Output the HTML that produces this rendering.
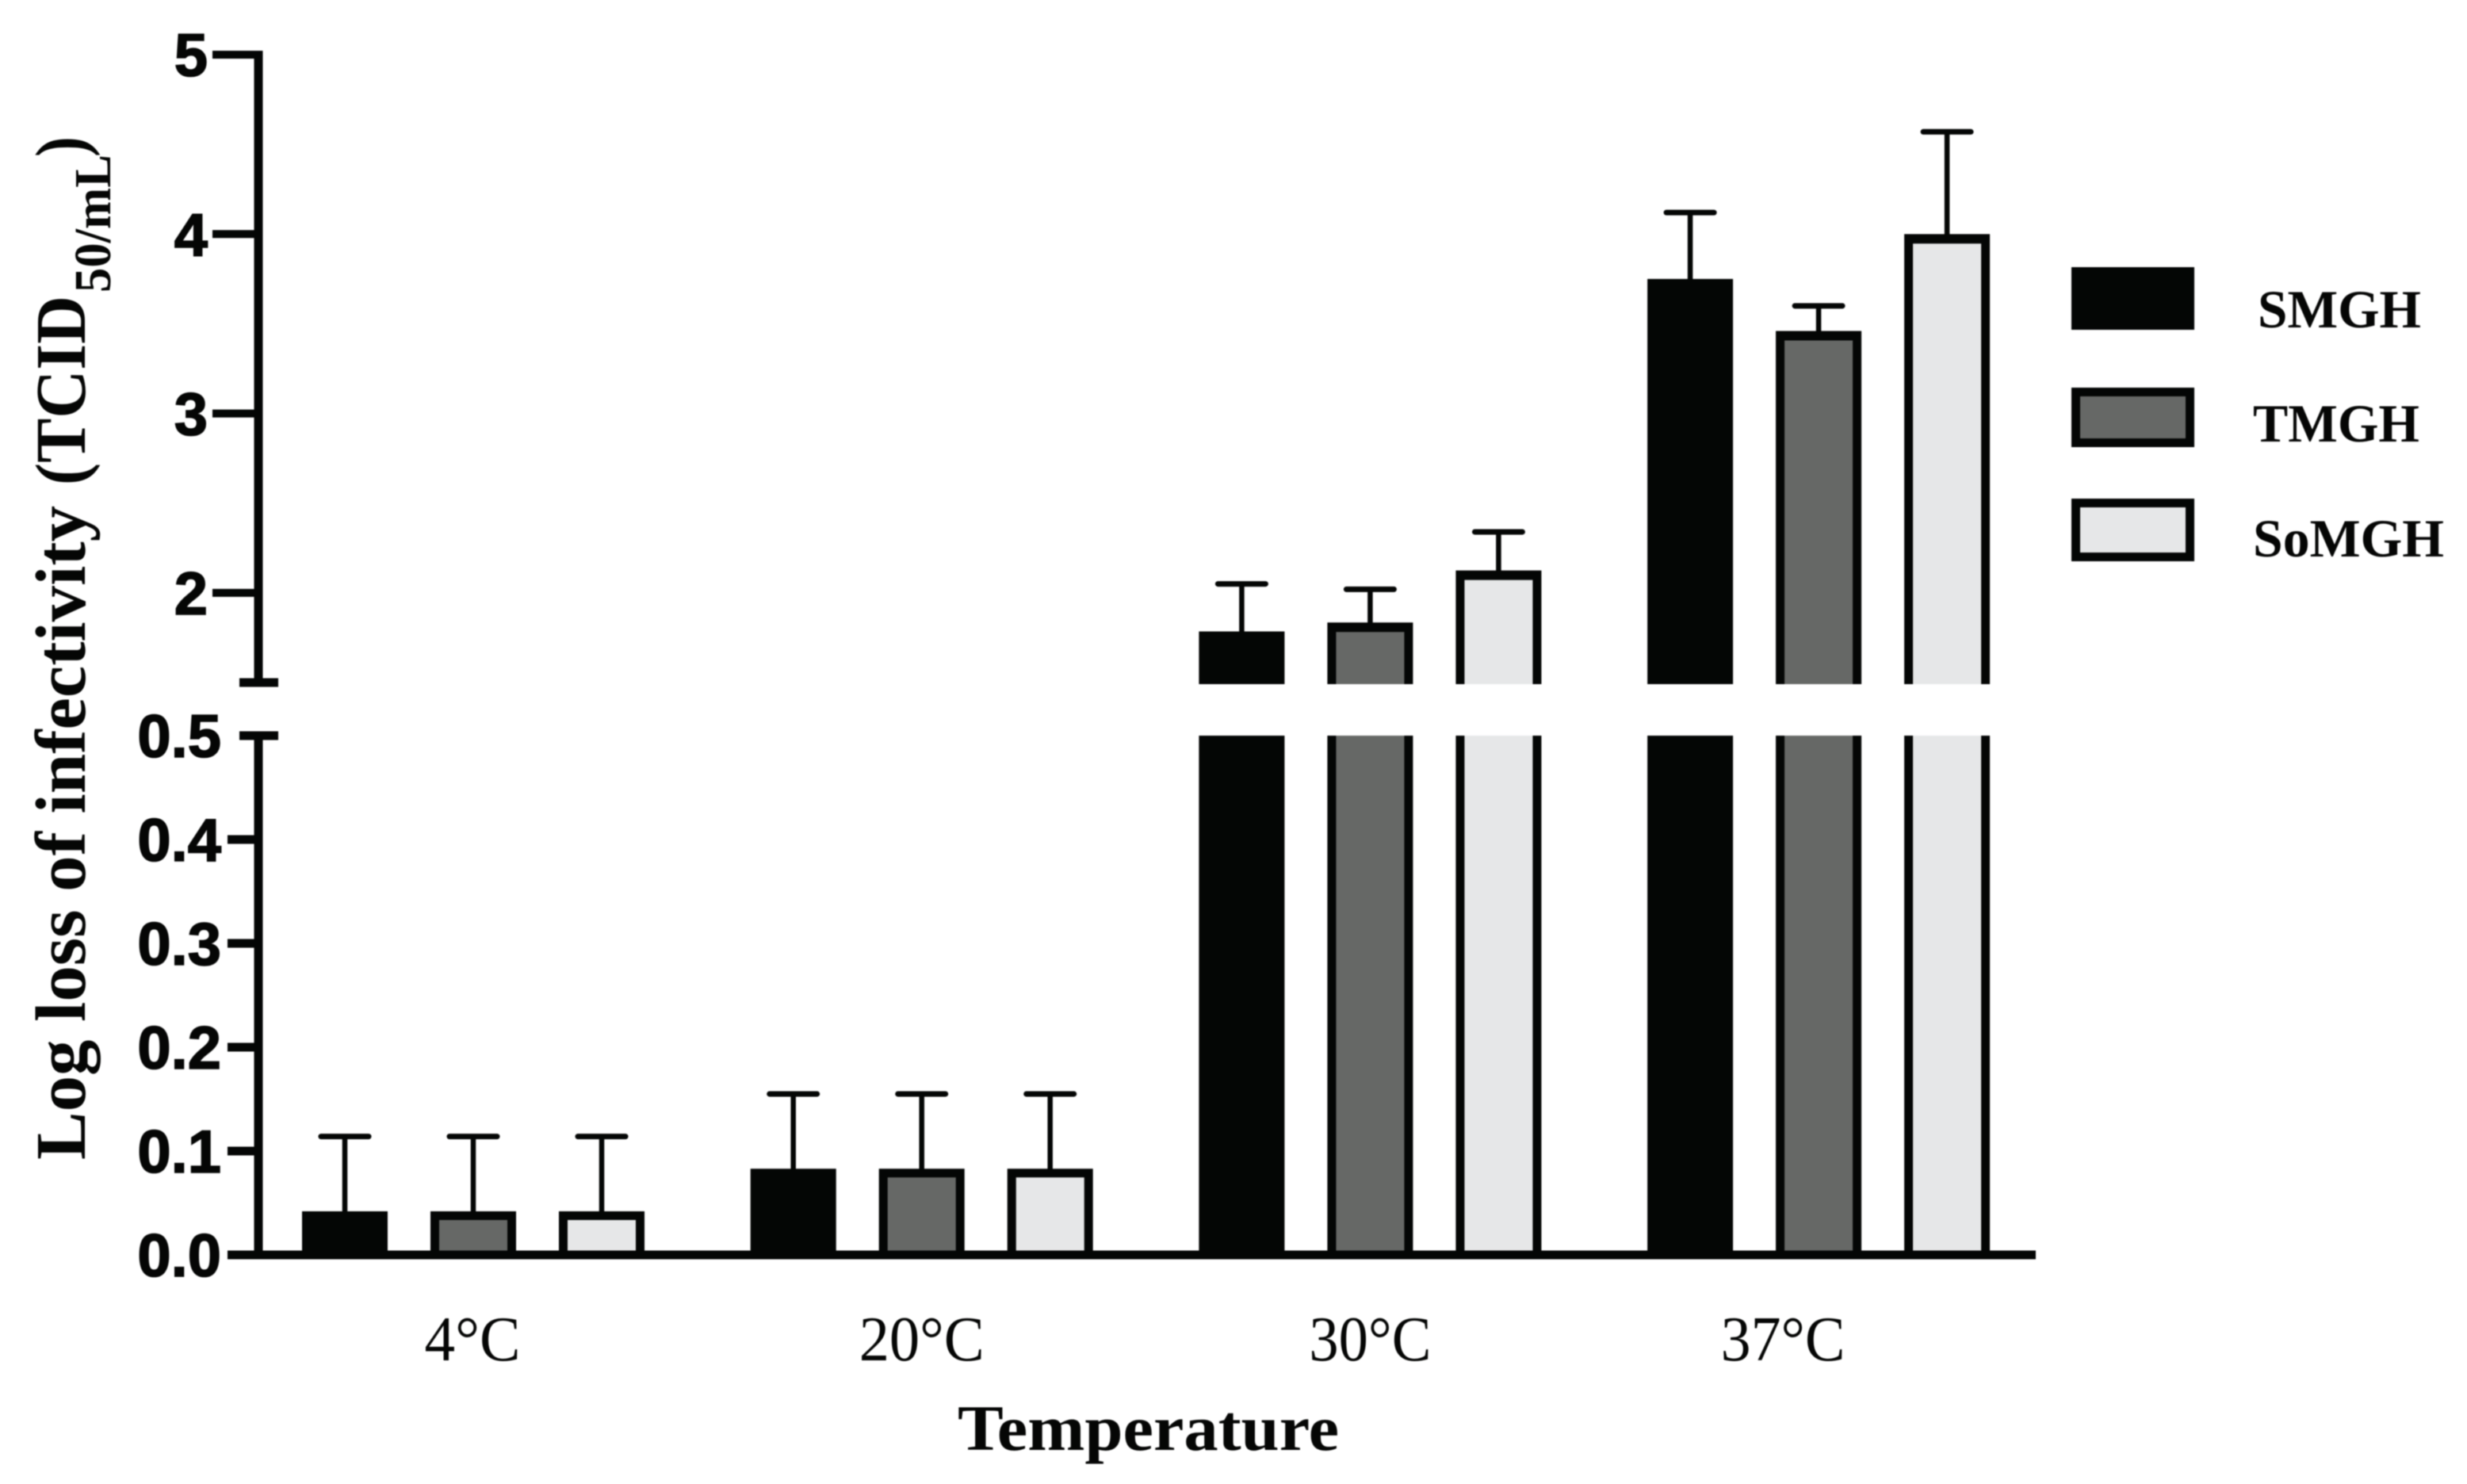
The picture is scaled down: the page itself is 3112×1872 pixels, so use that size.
<!DOCTYPE html>
<html lang="en">
<head>
<meta charset="utf-8">
<title>Log loss of infectivity by temperature</title>
<style>
html,body{margin:0;padding:0;background:#fff;}
svg{display:block;filter:blur(0.9px);}
text{fill:#050605;}
.tick-label{font-family:"Liberation Sans",sans-serif;font-weight:700;font-size:76px;stroke:#050605;stroke-width:1.6px;}
.serif-bold{font-family:"Liberation Serif",serif;font-weight:700;}
.serif{font-family:"Liberation Serif",serif;font-weight:400;}
</style>
</head>
<body>
<svg id="chart" xmlns="http://www.w3.org/2000/svg" width="3112" height="1872" viewBox="0 0 3112 1872">
  <rect x="0" y="0" width="3112" height="1872" fill="#ffffff"/>
  <g id="bars"></g>
  <g id="errors"></g>
  <g id="axes"></g>
  <g id="xlabels"></g>
  <g>
    <text class="serif-bold" font-size="90" transform="translate(107,1463) rotate(-90)" textLength="825" lengthAdjust="spacingAndGlyphs">Log loss of infectivity</text>
    <text class="serif-bold" font-size="90" transform="translate(107,612) rotate(-90)" textLength="239" lengthAdjust="spacingAndGlyphs">(TCID</text>
    <text class="serif-bold" font-size="66" transform="translate(139,369) rotate(-90)" textLength="174" lengthAdjust="spacingAndGlyphs">50/mL</text>
    <text class="serif-bold" font-size="90" transform="translate(107,198) rotate(-90)" textLength="26" lengthAdjust="spacingAndGlyphs">)</text>
  </g>
  <text class="serif-bold" font-size="82" x="1208" y="1829" textLength="481" lengthAdjust="spacingAndGlyphs">Temperature</text>
  <g>
    <g>
      <rect x="2613" y="337" width="155" height="79" fill="#040605"/>
      <text class="serif-bold" font-size="68" x="2848" y="413" textLength="206" lengthAdjust="spacingAndGlyphs">SMGH</text>
    </g>
    <g>
      <rect x="2618.5" y="494.5" width="144" height="64" fill="#666866" stroke="#040605" stroke-width="11"/>
      <text class="serif-bold" font-size="68" x="2842" y="557" textLength="210" lengthAdjust="spacingAndGlyphs">TMGH</text>
    </g>
    <g>
      <rect x="2618.5" y="634.5" width="144" height="68" fill="#e6e7e8" stroke="#040605" stroke-width="11"/>
      <text class="serif-bold" font-size="68" x="2842" y="702" textLength="241" lengthAdjust="spacingAndGlyphs">SoMGH</text>
    </g>
  </g>
</svg>
<script>
const categories = ["4°C", "20°C", "30°C", "37°C"];
const seriesNames = ["SMGH", "TMGH", "SoMGH"];
const smghValues = [0.042, 0.083, 1.785, 3.75];
const tmghValues = [0.042, 0.083, 1.835, 3.46];
const somghValues = [0.042, 0.083, 2.125, 4.0];
const smghErrorTops = [0.114, 0.155, 2.05, 4.12];
const tmghErrorTops = [0.114, 0.155, 2.02, 3.60];
const somghErrorTops = [0.114, 0.155, 2.34, 4.57];
const upperTickLabels = ["2", "3", "4", "5"];
const lowerTickLabels = ["0.0", "0.1", "0.2", "0.3", "0.4", "0.5"];

const SVG_NS = "http://www.w3.org/2000/svg";
const INK = "#040605";
const FILLS = ["#040605", "#666866", "#e6e7e8"];
const LOWER = { base: 1583, perUnit: 1310, max: 0.5 };
const UPPER = { top: 69, perUnit: 226.3, max: 5, min: 1.5 };
const LOWER_TOP_PX = 928;
const UPPER_BOTTOM_PX = 863;
const BAR_W = 108;
const BAR_STROKE = 11;
const AXIS_X = 326;
const LABEL_WIDTHS = [121, 158, 154, 157];
const LABEL_SHIFT = [-1, 0, 0, -45];

function yScale(v) {
  if (v <= LOWER.max) return LOWER.base - v * LOWER.perUnit;
  return UPPER.top + (UPPER.max - v) * UPPER.perUnit;
}
function xScale(g, s) {
  return 597 + g * 565.7 + (s - 1) * 162;
}
function make(parent, tag, attrs) {
  const el = document.createElementNS(SVG_NS, tag);
  for (const k in attrs) el.setAttribute(k, attrs[k]);
  parent.appendChild(el);
  return el;
}

const barsG = document.getElementById("bars");
const errG = document.getElementById("errors");
const axesG = document.getElementById("axes");
const labelsG = document.getElementById("xlabels");
const seriesValues = [smghValues, tmghValues, somghValues];
const seriesErrors = [smghErrorTops, tmghErrorTops, somghErrorTops];

categories.forEach(function (cat, g) {
  seriesNames.forEach(function (name, s) {
    const v = seriesValues[s][g];
    const e = seriesErrors[s][g];
    const cx = xScale(g, s);
    const left = cx - BAR_W / 2;
    const topPx = yScale(v);
    const broken = v > LOWER.max;
    const slug = name.toLowerCase() + "-" + cat.replace("°C", "c");

    const errStem = make(errG, "line", { x1: cx, x2: cx, y1: yScale(e), y2: topPx + 4, stroke: INK, "stroke-width": 6.5 });
    
    
    const errCap = make(errG, "line", { x1: cx - 30, x2: cx + 30, y1: yScale(e), y2: yScale(e), stroke: INK, "stroke-width": 7, "stroke-linecap": "round" });
    
    

    const lowerTop = broken ? LOWER_TOP_PX : topPx;
    const lowerOuter = make(barsG, "rect", { x: left, y: lowerTop, width: BAR_W, height: LOWER.base - lowerTop, fill: INK });
    
    
    const innerTop = broken ? LOWER_TOP_PX : topPx + BAR_STROKE;
    const lowerInner = make(barsG, "rect", { x: left + BAR_STROKE, y: innerTop, width: BAR_W - 2 * BAR_STROKE, height: LOWER.base - innerTop, fill: FILLS[s] });
    
    

    if (broken) {
      const upperOuter = make(barsG, "rect", { x: left, y: topPx, width: BAR_W, height: UPPER_BOTTOM_PX - topPx, fill: INK });
      
      
      const upperInner = make(barsG, "rect", { x: left + BAR_STROKE, y: topPx + BAR_STROKE + 1, width: BAR_W - 2 * BAR_STROKE, height: UPPER_BOTTOM_PX - topPx - BAR_STROKE - 1, fill: FILLS[s] });
      
      
    }
  });

  const lab = make(labelsG, "text", { x: xScale(g, 1) + LABEL_SHIFT[g], y: 1716, "text-anchor": "middle", "font-size": 80, textLength: LABEL_WIDTHS[g], lengthAdjust: "spacingAndGlyphs", class: "serif" });
  
  
  lab.textContent = cat;
});

const upperAxis = make(axesG, "line", { x1: AXIS_X, x2: AXIS_X, y1: yScale(UPPER.max) - 5, y2: yScale(UPPER.min), stroke: INK, "stroke-width": 11 });


const lowerAxis = make(axesG, "line", { x1: AXIS_X, x2: AXIS_X, y1: yScale(LOWER.max), y2: LOWER.base + 5, stroke: INK, "stroke-width": 11 });


const xAxis = make(axesG, "line", { x1: 287, x2: 2568, y1: LOWER.base, y2: LOWER.base, stroke: INK, "stroke-width": 11 });


const capUpper = make(axesG, "line", { x1: 302, x2: 351, y1: yScale(UPPER.min), y2: yScale(UPPER.min), stroke: INK, "stroke-width": 11 });


const capLower = make(axesG, "line", { x1: 302, x2: 351, y1: yScale(LOWER.max), y2: yScale(LOWER.max), stroke: INK, "stroke-width": 11 });



upperTickLabels.forEach(function (t) {
  const py = yScale(parseFloat(t));
  const tick = make(axesG, "line", { x1: 268, x2: AXIS_X, y1: py, y2: py, stroke: INK, "stroke-width": 10 });
  
  
  const label = make(axesG, "text", { x: 262, y: py + 27, "text-anchor": "end", class: "tick-label" });
  
  
  label.textContent = t;
});

lowerTickLabels.forEach(function (t) {
  const v = parseFloat(t);
  const py = yScale(v);
  if (v < LOWER.max) {
    const tick = make(axesG, "line", { x1: 287, x2: AXIS_X, y1: py, y2: py, stroke: INK, "stroke-width": 11 });
    
    
  }
  const label = make(axesG, "text", { x: 279, y: py + 27, "text-anchor": "end", class: "tick-label" });
  
  
  label.textContent = t;
});
</script>
</body>
</html>
